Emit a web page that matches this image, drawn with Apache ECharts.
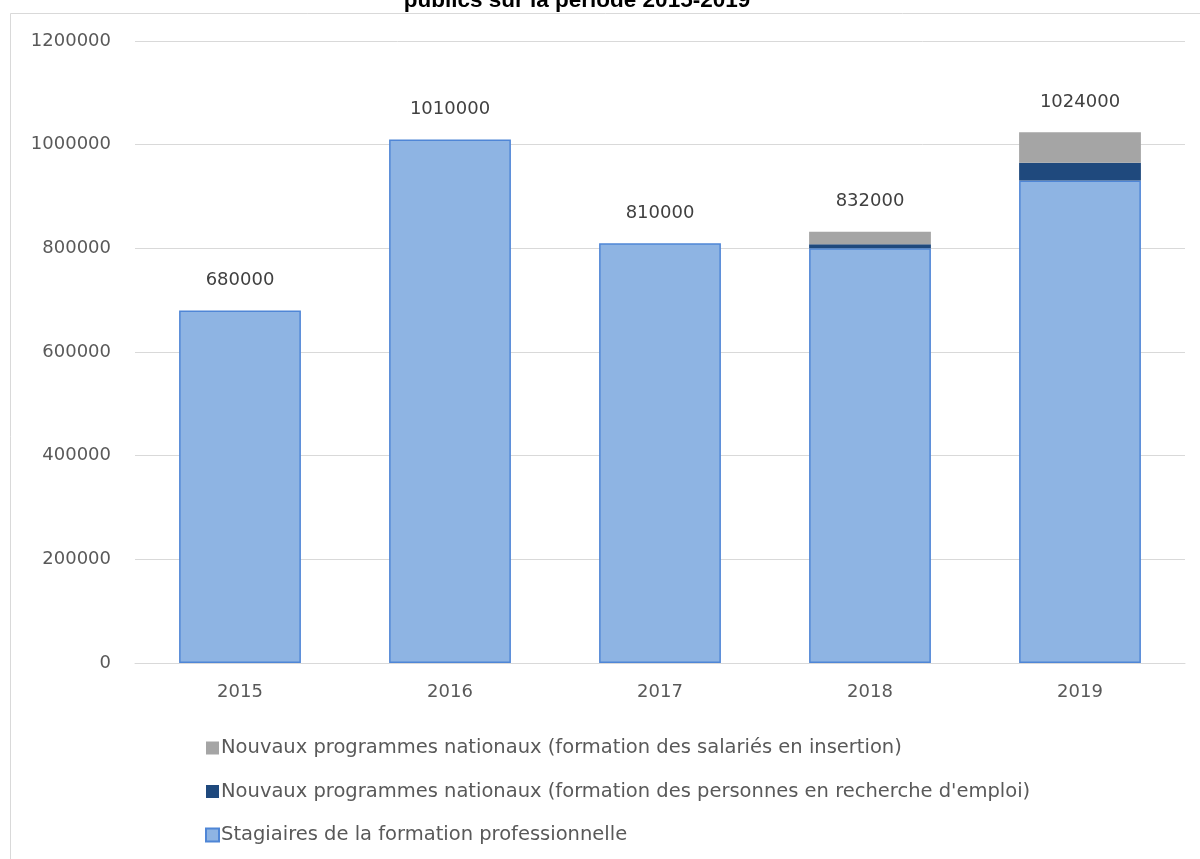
<!DOCTYPE html>
<html><head><meta charset="utf-8">
<script src="https://cdn.jsdelivr.net/npm/echarts@6/dist/echarts.min.js"></script>
<style>html,body{margin:0;padding:0;background:#fff}#c{width:1200px;height:859px}</style>
</head><body><div id="c"></div>
<script>
const years = ['2015','2016','2017','2018','2019'];
const stagiaires = [680000, 1010000, 810000, 800000, 931000];
const rechercheEmploi = [0, 0, 0, 8000, 34000];
const salariesInsertion = [0, 0, 0, 24000, 59000];
const seriesNames = [
  'Stagiaires de la formation professionnelle',
  "Nouvaux programmes nationaux (formation des personnes en recherche d'emploi)",
  'Nouvaux programmes nationaux (formation des salariés en insertion)'
];
const yTicks = [0, 200000, 400000, 600000, 800000, 1000000, 1200000];
const totals = years.map((_, i) => stagiaires[i] + rechercheEmploi[i] + salariesInsertion[i]);

const font = '"DejaVu Sans", sans-serif';
const chart = echarts.init(document.getElementById('c'), null, {renderer: 'canvas'});
chart.setOption({
  animation: false,
  backgroundColor: '#fff',
  title: {
    text: 'publics sur la période 2015-2019',
    left: 572, top: -16, textAlign: 'center',
    textStyle: {fontFamily: '"Liberation Sans", Arial', fontWeight: 'bold', fontSize: 22.5, color: '#000'}
  },
  graphic: [{
    type: 'polyline', silent: true,
    shape: {points: [[10.5, 859], [10.5, 13.5], [1200, 13.5]]},
    style: {stroke: '#d9d9d9', lineWidth: 1, fill: null}
  }],
  grid: {left: 135, right: 15, top: 41, bottom: 196, containLabel: false},
  legend: {
    orient: 'vertical', left: 200, top: 733, itemGap: 23.5,
    itemWidth: 13, itemHeight: 13, icon: 'rect',
    data: [seriesNames[2], seriesNames[1], seriesNames[0]],
    textStyle: {fontFamily: font, fontSize: 19.5, color: '#595959', padding: [0, 0, 0, -3]}
  },
  xAxis: {
    type: 'category', data: years,
    axisLine: {lineStyle: {color: '#d9d9d9', width: 1}},
    axisTick: {show: false},
    axisLabel: {fontFamily: font, fontSize: 18, color: '#595959', margin: 20}
  },
  yAxis: {
    type: 'value', min: 0, max: 1200000, interval: 200000,
    axisLine: {show: false}, axisTick: {show: false},
    splitLine: {lineStyle: {color: '#d9d9d9', width: 1}},
    axisLabel: {fontFamily: font, fontSize: 18, color: '#595959', margin: 24,
      formatter: v => yTicks.includes(v) ? String(v) : ''}
  },
  series: [
    {
      name: seriesNames[0], type: 'bar', stack: 'a', data: stagiaires, barWidth: '58%',
      itemStyle: {color: '#8eb4e3', borderColor: '#4f86d6', borderWidth: 1.5}
    },
    {
      name: seriesNames[1], type: 'bar', stack: 'a', data: rechercheEmploi,
      itemStyle: {color: '#1f497d'}
    },
    {
      name: seriesNames[2], type: 'bar', stack: 'a', data: salariesInsertion,
      itemStyle: {color: '#a5a5a5'},
      label: {
        show: true, position: 'top', distance: 21,
        fontFamily: font, fontSize: 18, color: '#404040',
        formatter: p => String(totals[p.dataIndex])
      }
    }
  ]
});
</script></body></html>
